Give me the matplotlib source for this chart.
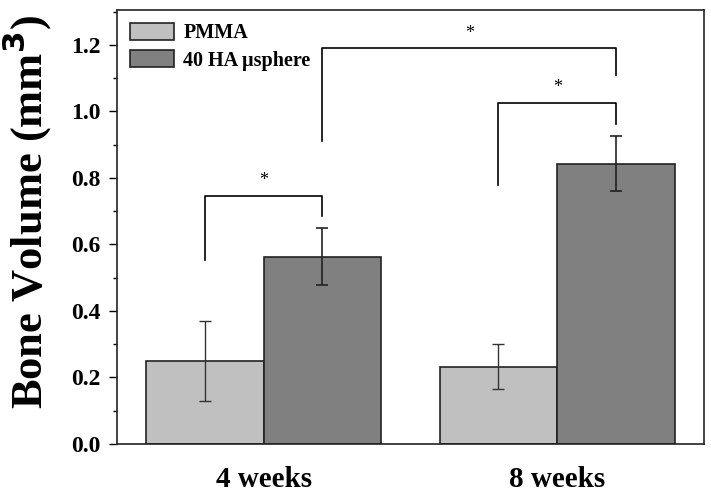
import numpy as np
import matplotlib.pyplot as plt
from matplotlib.ticker import MultipleLocator

plt.rcParams['font.family'] = ['Liberation Serif', 'DejaVu Serif']

# data
groups = ['4 weeks', '8 weeks']
series = ['PMMA', '40 HA \u00b5sphere']
pmma = [0.25, 0.233]
pmma_err = [0.12, 0.068]
ha = [0.563, 0.843]
ha_err = [0.085, 0.082]
colors = ['#c0c0c0', '#808080']

# significance brackets: (x_left, x_right, y_bar, left_leg_end, right_leg_end)
brackets = [(0.8, 1.2, 0.747, 0.553, 0.686),
            (1.2, 2.2, 1.19, 0.911, 1.11),
            (1.8, 2.2, 1.025, 0.779, 0.961)]

x = np.arange(1, len(groups) + 1)
w = 0.4

fig = plt.figure(figsize=(7.11, 4.94), dpi=100)
ax = fig.add_axes([0.1646, 0.1012, 0.8254, 0.8786])

ax.bar(x - w / 2, pmma, w, yerr=pmma_err, color=colors[0], edgecolor='#222222',
       linewidth=1.2, label=series[0],
       error_kw=dict(ecolor='#333333', elinewidth=1, capsize=4.5, capthick=1))
ax.bar(x + w / 2, ha, w, yerr=ha_err, color=colors[1], edgecolor='#222222',
       linewidth=1.2, label=series[1],
       error_kw=dict(ecolor='#222222', elinewidth=1.2, capsize=4.5, capthick=1.2))

for xl, xr, yb, yl, yr in brackets:
    ax.plot([xl, xl, xr, xr], [yl, yb, yb, yr], color='black', lw=1.2)
    ax.text((xl + xr) / 2, yb + 0.02, '*', ha='center', va='bottom', fontsize=13)

ax.set_xlim(0.5, 2.5)
ax.set_ylim(0, 1.305)
ax.set_xticks(x)
ax.set_xticklabels(groups, fontsize=21, fontweight='bold')
ax.tick_params(axis='x', length=0, pad=16)
ax.yaxis.set_major_locator(MultipleLocator(0.2))
ax.yaxis.set_minor_locator(MultipleLocator(0.1))
ax.yaxis.set_major_formatter(plt.FormatStrFormatter('%.1f'))
ax.tick_params(axis='y', which='major', length=6, width=1, labelsize=17, pad=6)
ax.tick_params(axis='y', which='minor', length=3, width=1)
for lab in ax.get_yticklabels():
    lab.set_fontweight('bold')
for s in ax.spines.values():
    s.set_linewidth(1.2)
    s.set_color('#222222')

ax.set_ylabel('Bone Volume (mm$^\\mathbf{3}$)', fontsize=32, fontweight='bold')
ax.yaxis.set_label_coords(-0.107, 0.535)

leg = ax.legend(loc='upper left', frameon=False, prop={'weight': 'bold', 'size': 14.5},
                handlelength=2.2, handleheight=0.9, borderaxespad=0.25, labelspacing=0.35,
                handletextpad=0.45)

fig.savefig('out.png', dpi=100)
